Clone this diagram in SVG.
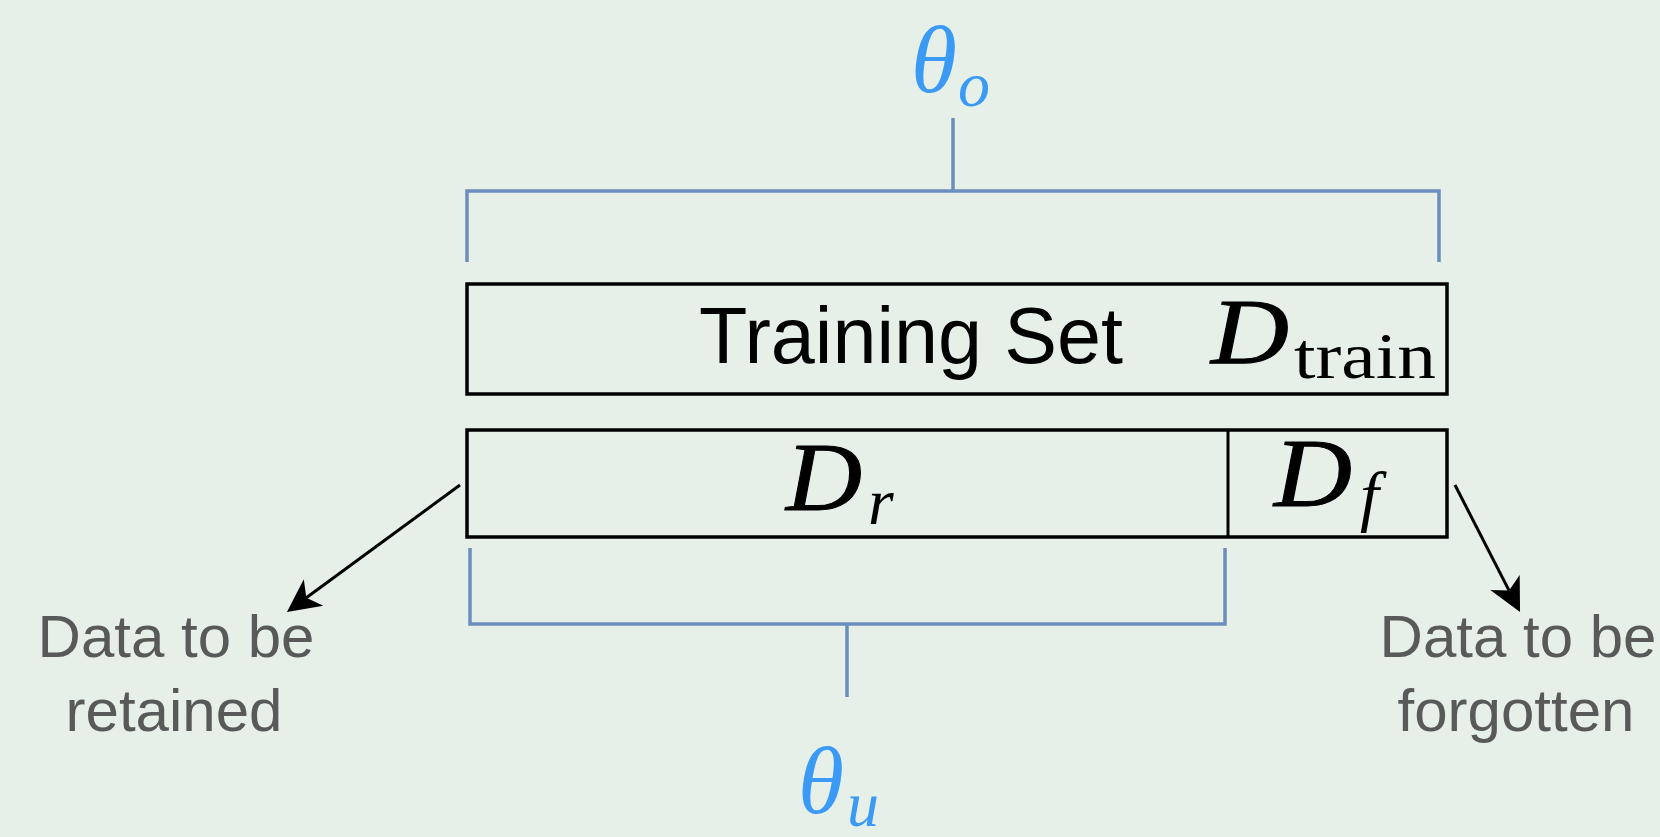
<svg xmlns="http://www.w3.org/2000/svg" width="1660" height="837" viewBox="0 0 1660 837">
  <style>
    .bracket { fill: none; stroke: #6c8ebf; stroke-width: 3.5; }
    .box { fill: none; stroke: #000; stroke-width: 3.5; }
    .arrow { fill: none; stroke: #000; stroke-width: 3; }
    .math { font-family: "Liberation Serif", "Times New Roman", serif; font-style: italic; }
    .heavy { stroke: #000; stroke-width: 1; }
    .roman { font-family: "Liberation Serif", "Times New Roman", serif; }
    .param { fill: #3a9af5; }
    .label { font-family: "Liberation Sans", Arial, sans-serif; font-size: 60px; fill: #595959; text-anchor: middle; }
  </style>
  <defs>
    <marker id="head" markerUnits="userSpaceOnUse" viewBox="-36 -20 40 40" markerWidth="40" markerHeight="40" refX="-24" refY="0" orient="auto">
      <path d="M0,0 L-33,-16.5 L-24,0 L-33,16.5 Z" fill="#000"/>
    </marker>
  </defs>

  <rect x="0" y="0" width="1660" height="837" fill="#e6f0e8"/>

  <!-- original model parameters over the whole training set -->
  <g id="theta-o">
    <path class="bracket" d="M467,262 V191 H1439 V262"/>
    <path class="bracket" d="M953,118 V191"/>
    <text class="math param" x="911" y="92" font-size="95" textLength="46" lengthAdjust="spacingAndGlyphs">θ</text>
    <text class="math param" x="958" y="106" font-size="64">o</text>
  </g>

  <!-- training set -->
  <g id="train-set">
    <rect class="box" x="467" y="284" width="980" height="110"/>
    <text x="699" y="363" font-family="'Liberation Sans', Arial, sans-serif" font-size="79" fill="#000" textLength="424" lengthAdjust="spacingAndGlyphs">Training Set</text>
    <text class="math heavy" x="1211" y="363" font-size="94" textLength="78" lengthAdjust="spacingAndGlyphs">D</text>
    <text class="roman" x="1294" y="378" font-size="66" textLength="142" lengthAdjust="spacingAndGlyphs">train</text>
  </g>

  <!-- retain / forget split -->
  <g id="split">
    <rect class="box" x="467" y="430" width="980" height="107"/>
    <line x1="1228" y1="430" x2="1228" y2="537" stroke="#000" stroke-width="3"/>
  </g>
  <g id="d-r">
    <text class="math heavy" x="786" y="510" font-size="97" textLength="76" lengthAdjust="spacingAndGlyphs">D</text>
    <text class="math" x="868" y="524" font-size="66">r</text>
  </g>
  <g id="d-f">
    <text class="math heavy" x="1274" y="506" font-size="97" textLength="78" lengthAdjust="spacingAndGlyphs">D</text>
    <text class="math" x="1360" y="519" font-size="68">f</text>
  </g>

  <!-- unlearned model parameters over the retained part -->
  <g id="theta-u">
    <path class="bracket" d="M470,548 V624 H1225 V548"/>
    <path class="bracket" d="M847,624 V697"/>
    <text class="math param" x="798" y="813" font-size="95" textLength="46" lengthAdjust="spacingAndGlyphs">θ</text>
    <text class="math param" x="847" y="826" font-size="64">u</text>
  </g>

  <g id="label-retained">
    <text class="label" x="176" y="657">Data to be</text>
    <text class="label" x="174" y="731">retained</text>
  </g>
  <g id="label-forgotten">
    <text class="label" x="1518" y="657">Data to be</text>
    <text class="label" x="1516" y="731">forgotten</text>
  </g>

  <g id="connectors">
    <line class="arrow" x1="460" y1="485" x2="306.3" y2="597.8" marker-end="url(#head)"/>
    <line class="arrow" x1="1455" y1="485" x2="1509.1" y2="590.6" marker-end="url(#head)"/>
  </g>
</svg>
